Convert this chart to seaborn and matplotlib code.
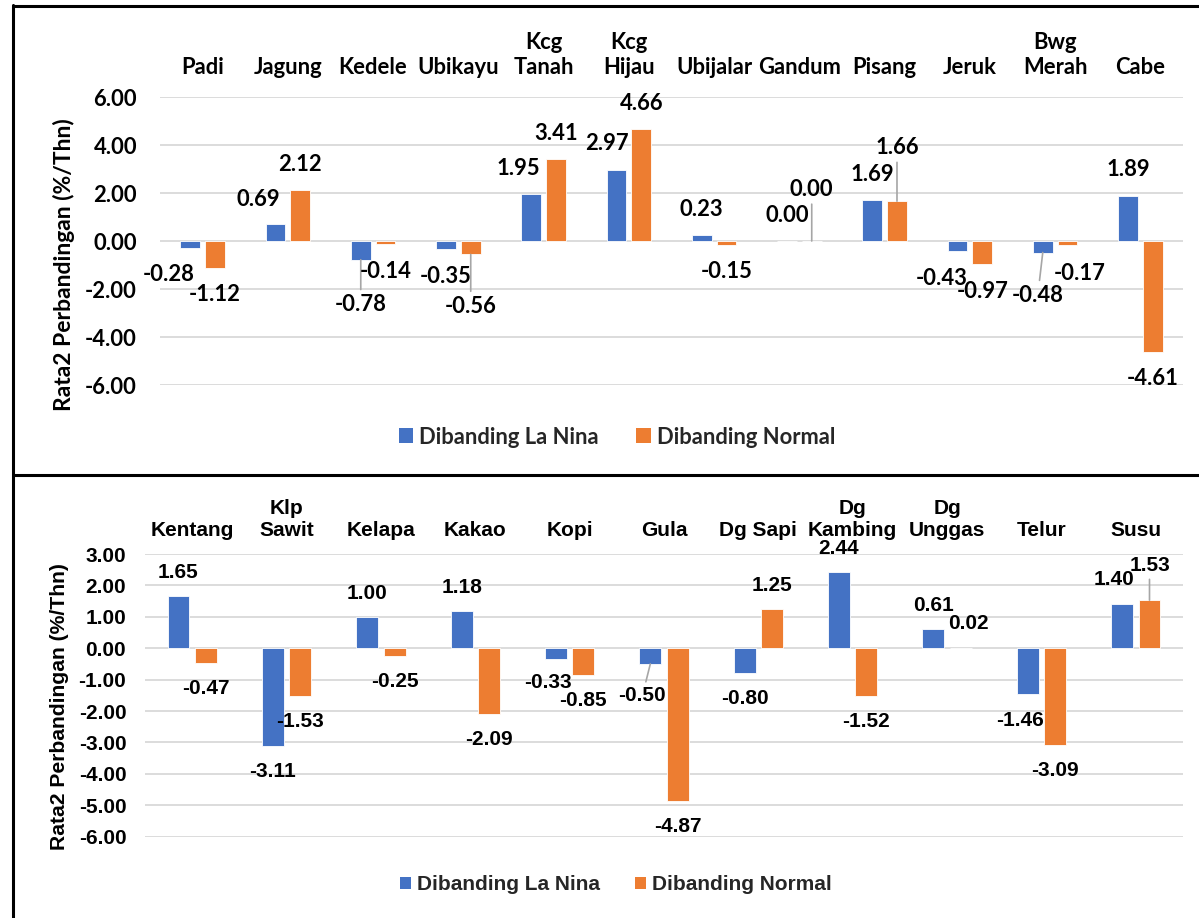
import matplotlib
matplotlib.use("Agg")
import pandas as pd
import matplotlib.pyplot as plt
import seaborn as sns
from matplotlib.patches import Patch
from matplotlib.lines import Line2D
from matplotlib.ticker import FixedLocator, FuncFormatter

# data panel atas (tanaman pangan / hortikultura)
kategori_atas = ["Padi", "Jagung", "Kedele", "Ubikayu", "Kcg\nTanah", "Kcg\nHijau",
                 "Ubijalar", "Gandum", "Pisang", "Jeruk", "Bwg\nMerah", "Cabe"]
lanina_atas = [-0.28, 0.69, -0.78, -0.35, 1.95, 2.97, 0.23, 0.00, 1.69, -0.43, -0.48, 1.89]
normal_atas = [-1.12, 2.12, -0.14, -0.56, 3.41, 4.66, -0.15, 0.00, 1.66, -0.97, -0.17, -4.61]

# data panel bawah (perkebunan / peternakan)
kategori_bawah = ["Kentang", "Klp\nSawit", "Kelapa", "Kakao", "Kopi", "Gula", "Dg Sapi",
                  "Dg\nKambing", "Dg\nUnggas", "Telur", "Susu"]
lanina_bawah = [1.65, -3.11, 1.00, 1.18, -0.33, -0.50, -0.80, 2.44, 0.61, -1.46, 1.40]
normal_bawah = [-0.47, -1.53, -0.25, -2.09, -0.85, -4.87, 1.25, -1.52, 0.02, -3.09, 1.53]

seri = ["Dibanding La Nina", "Dibanding Normal"]
warna = ["#4472C4", "#ED7D31"]
ylabel = "Rata2 Perbandingan (%/Thn)"

# geser label (dx, dy) dalam piksel, dy positif = ke bawah; True = pakai garis penunjuk
geser_atas = {
    (0, 0): (-22, 27, False), (1, 0): (-17, -25, False), (2, 0): (0, 45, True),
    (3, 1): (0, 52, True), (4, 0): (-13, -26, False), (5, 0): (-10, -26, False),
    (7, 1): (0, -52, True), (8, 1): (0, -54, True), (9, 0): (-16, 27, False),
    (10, 0): (-5, 43, True), (10, 1): (12, 28, False),
}
geser_bawah = {
    (4, 0): (-8, 24, False), (5, 0): (-8, 32, True), (8, 1): (8, -24, False),
    (9, 0): (-8, 26, False), (10, 0): (-8, -25, False), (10, 1): (0, -35, True),
}

W, H = 1199, 918
DPI = 100

sns.set_theme(style="white")
plt.rcParams["axes.unicode_minus"] = False


def gambar_panel(ax, kategori, v1, v2, font, size, ylim, step, geser, d_pos, d_neg,
                 ypad, xpad, ylab_xy, ylab_size):
    df = pd.DataFrame({
        "kategori": kategori * 2,
        "nilai": v1 + v2,
        "seri": [seri[0]] * len(kategori) + [seri[1]] * len(kategori),
    })
    sns.barplot(data=df, x="kategori", y="nilai", hue="seri", hue_order=seri,
                palette=warna, width=0.58, gap=0.2, errorbar=None, legend=False,
                saturation=1, edgecolor="white", linewidth=0.6, ax=ax, zorder=3)
    ax.set_ylim(*ylim)
    ticks = []
    t = ylim[0]
    while t <= ylim[1] + 1e-9:
        ticks.append(t)
        t += step
    ax.yaxis.set_major_locator(FixedLocator(ticks))
    ax.yaxis.set_major_formatter(FuncFormatter(lambda v, _: f"{v:.2f}"))
    ax.yaxis.grid(True, color="#d9d9d9", linewidth=1.3, zorder=0)
    ax.xaxis.grid(False)
    ax.set_axisbelow(True)
    for s in ax.spines.values():
        s.set_visible(False)

    ax.xaxis.tick_top()
    ax.tick_params(axis="x", length=0, pad=xpad)
    ax.tick_params(axis="y", length=0, pad=ypad)
    for lab in ax.get_xticklabels():
        lab.set_fontfamily(font)
        lab.set_fontweight("bold")
        lab.set_fontsize(size)
        lab.set_multialignment("center")
        lab.set_color("black")
    for lab in ax.get_yticklabels():
        lab.set_fontfamily(font)
        lab.set_fontweight("bold")
        lab.set_fontsize(size)
        lab.set_color("black")

    ax.set_xlabel("")
    ax.set_ylabel(ylabel, fontfamily=font, fontweight="bold", fontsize=ylab_size,
                  color="black")
    ax.yaxis.label.set_va("center")
    ax.yaxis.set_label_coords(*ylab_xy)

    # label nilai
    for h, cont in enumerate(ax.containers):
        for p in cont.patches:
            xc = p.get_x() + p.get_width() / 2
            i = int(round(xc))
            val = (v1 if h == 0 else v2)[i]
            dx, dy, garis = geser.get((i, h), (0, d_pos if val >= 0 else d_neg, False))
            kw = {}
            if garis:
                kw["arrowprops"] = dict(arrowstyle="-", color="#a6a6a6", lw=1.2,
                                        shrinkA=1, shrinkB=0)
            ax.annotate(f"{val:.2f}", xy=(xc, val), xytext=(dx, -dy),
                        textcoords="offset pixels", ha="center", va="center",
                        fontfamily=font, fontweight="bold", fontsize=size,
                        color="black", zorder=5, **kw)


fig = plt.figure(figsize=(W / DPI, H / DPI), dpi=DPI)

ax1 = fig.add_axes([160 / W, 1 - 385 / H, 1023 / W, 288 / H])
gambar_panel(ax1, kategori_atas, lanina_atas, normal_atas, "Lato", 15.8, (-6, 6), 2,
             geser_atas, -26, 27, 16.5, 14, (-0.094, 0.417), 16.5)

ax2 = fig.add_axes([145 / W, 1 - 836.7 / H, 1038 / W, 282.7 / H])
gambar_panel(ax2, kategori_bawah, lanina_bawah, normal_bawah, "Liberation Sans", 15,
             (-6, 3), 1, geser_bawah, -23.5, 25.5, 13.5, 10, (-0.082, 0.459), 15.2)

# legenda
for ypix, font, size, hs, xc in [(437, "Lato", 15.8, 0.65, 617),
                                 (885, "Liberation Sans", 15, 0.5, 616)]:
    handles = [Patch(facecolor=c, edgecolor="none") for c in warna]
    fig.legend(handles, seri, loc="center", bbox_to_anchor=(xc / W, 1 - ypix / H),
               ncol=2, frameon=False, handlelength=hs, handleheight=hs,
               handletextpad=0.3, columnspacing=1.7,
               prop={"family": font, "weight": "bold", "size": size})

# bingkai
lw = 2.2
fig.add_artist(Line2D([13 / W, 1], [1 - 6 / H, 1 - 6 / H], color="black", lw=lw,
                      transform=fig.transFigure))
fig.add_artist(Line2D([13 / W, 1], [1 - 475 / H, 1 - 475 / H], color="black", lw=lw,
                      transform=fig.transFigure))
fig.add_artist(Line2D([13 / W, 13 / W], [0, 1 - 5 / H], color="black", lw=lw,
                      transform=fig.transFigure))

fig.savefig("out.png", dpi=DPI)
